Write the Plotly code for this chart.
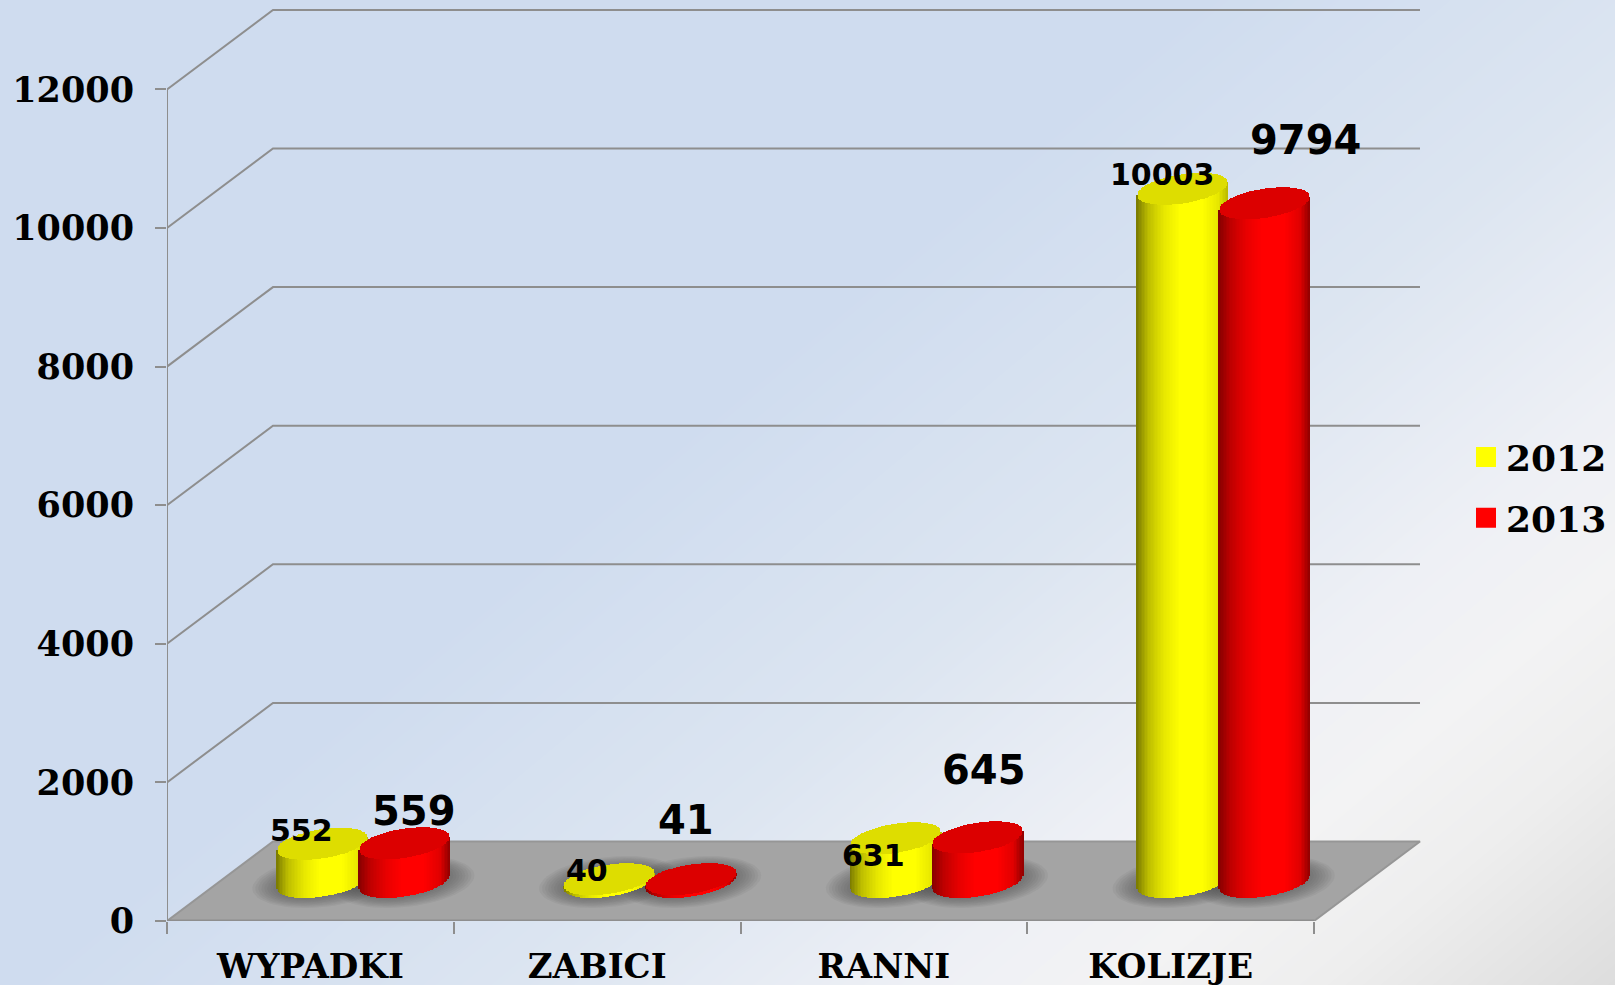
import numpy as np
import plotly.graph_objects as go

# ---------- data ----------
categories = ["WYPADKI", "ZABICI", "RANNI", "KOLIZJE"]
values_2012 = [552, 40, 631, 10003]
values_2013 = [559, 41, 645, 9794]
series_names = ["2012", "2013"]
y_ticks = [0, 2000, 4000, 6000, 8000, 10000, 12000]

# ---------- page geometry and scales (pixels -> axis units) ----------
W, H = 1615, 985
X0, X4 = 167, 1314
XR = 1425
Y0, YT = 921, 4
PXU = (X4 - X0) / 4
PYU = 0.0693
DX, DY = 106, 79.5
SERIF = "DejaVu Serif"
SANS = "DejaVu Sans"
GREY = "#8e8e8e"

def ux(px): return px / PXU
def uy(px): return px / PYU

# ---------- cylinder geometry ----------
A, K, B = 45, 6.5, 14.6          # half width, tilt, half depth of the ellipse
BASE_OFF = 39                    # ellipse centre above axis zero
SHIFT = 41
N = 62
ts = np.linspace(-1, 1, N)
ss = np.sqrt(np.clip(1 - ts ** 2, 0, 1))

def mix(stops, t):
    xs = [s[0] for s in stops]
    return "rgb(%d,%d,%d)" % tuple(np.interp(t, xs, [s[1][i] for s in stops]) for i in range(3))

shade = {
    "2012": [(-1, (125, 125, 0)), (-.75, (190, 190, 0)), (-.4, (232, 232, 0)), (-.05, (255, 255, 0)),
             (.45, (255, 255, 0)), (.8, (232, 232, 0)), (1, (190, 190, 0))],
    "2013": [(-1, (135, 0, 0)), (-.75, (190, 0, 0)), (-.4, (232, 0, 0)), (-.05, (255, 0, 0)),
             (.45, (255, 0, 0)), (.8, (225, 0, 0)), (1, (150, 0, 0))],
}
cap = {"2012": "#dedd00", "2013": "#dc0000"}
solid = {"2012": "#ffff00", "2013": "#ff0000"}

def centre(i, sign):
    return i + .5 + ux(DX / 2 + sign * SHIFT)

def cylinder(values, name, sign):
    x, bb, bh, bc, cb, ch = [], [], [], [], [], []
    for i, v in enumerate(values):
        cx = centre(i, sign)
        for t, s in zip(ts, ss):
            x.append(cx + ux(A * t))
            low = uy(BASE_OFF) + uy(K * t - B * s)
            bb.append(low)
            bh.append(v + uy(K * t) + uy(BASE_OFF) - low)
            bc.append(mix(shade[name], t))
            cb.append(v + uy(BASE_OFF) + uy(K * t - B * s))
            ch.append(uy(2 * B * s))
    wd = ux(2 * A / (N - 1)) * 1.15
    body = go.Bar(x=x, y=bh, base=bb, width=wd, marker=dict(color=bc, line_width=0), xaxis="x3", yaxis="y3",
                  showlegend=False, hoverinfo="skip", name=name)
    top = go.Bar(x=x, y=ch, base=cb, width=wd, marker=dict(color=cap[name], line_width=0), xaxis="x3", yaxis="y3",
                 showlegend=False, hoverinfo="skip", name=name)
    return [body, top]

fig = go.Figure()

# ---------- page background ----------
tv = lambda x, y: x + 1.2 * y
zmin, zmax = 0, tv(W, H)
stops = [(1200, "#cfdcef"), (1700, "#dce5f1"), (2100, "#eef0f5"), (2300, "#f3f3f4"), (2500, "#eeeeee"), (zmax, "#dddddd")]
z = [[tv(0, 0), tv(W, 0)], [tv(0, H), tv(W, H)]]
cs = [[0, stops[0][1]]] + [[s[0] / zmax, s[1]] for s in stops]
fig.add_trace(go.Heatmap(x=[0, W], y=[0, H], z=z, zmin=zmin, zmax=zmax, colorscale=cs, zsmooth="best",
                         showscale=False, hoverinfo="skip", xaxis="x", yaxis="y"))

# ---------- back wall gridlines, floor, shadows ----------
gx, gy = [], []
for v in y_ticks[1:]:
    gx += [0, ux(DX), 4 + ux(DX), None]
    gy += [v, v + uy(DY), v + uy(DY), None]
fig.add_trace(go.Scatter(x=gx, y=gy, mode="lines", line=dict(color=GREY, width=2), xaxis="x2", yaxis="y2",
                         showlegend=False, hoverinfo="skip", cliponaxis=False))
fig.add_trace(go.Scatter(x=[0, 0], y=[0, y_ticks[-1]], mode="lines", line=dict(color=GREY, width=2), xaxis="x2", yaxis="y2",
                         showlegend=False, hoverinfo="skip", cliponaxis=False))
fig.add_trace(go.Scatter(x=[0, 4, 4 + ux(DX), ux(DX), 0], y=[0, 0, uy(DY), uy(DY), 0], mode="lines", fill="toself",
                         fillcolor="#a4a4a4", line=dict(color="#969696", width=2), xaxis="x2", yaxis="y2",
                         showlegend=False, hoverinfo="skip", cliponaxis=False))
fig.add_trace(go.Scatter(x=[0, 4], y=[0, 0], mode="lines", line=dict(color=GREY, width=3), xaxis="x2", yaxis="y2",
                         showlegend=False, hoverinfo="skip", cliponaxis=False))

th = np.linspace(0, 2 * np.pi, 60)
for e in [25, 22, 19, 16, 13, 10, 7, 4, 1]:
    for i in range(len(categories)):
        for sign in (-1, 1):
            cx = centre(i, sign)
            px_x = (A + e) * np.cos(th)
            px_y = K * np.cos(th) + (B + e * .42) * np.sin(th)
            fig.add_trace(go.Scatter(x=cx + ux(px_x), y=uy(BASE_OFF) + uy(px_y), mode="lines", fill="toself",
                                     fillcolor="rgba(70,70,70,0.07)", line=dict(width=0), xaxis="x2", yaxis="y2",
                                     showlegend=False, hoverinfo="skip"))

# ---------- cylinders ----------
for tr in cylinder(values_2012, "2012", -1) + cylinder(values_2013, "2013", 1):
    fig.add_trace(tr)

# ---------- legend entries ----------
for nm in series_names:
    fig.add_trace(go.Scatter(x=[None], y=[None], mode="markers", name=nm, legendgroup=nm,
                             marker=dict(symbol="square", size=16, color=solid[nm], line=dict(width=4, color=solid[nm])),
                             xaxis="x3", yaxis="y3"))

# ---------- value labels ----------
label_px_2012 = [(301, 830, 30), (587, 870, 30), (874, 855, 30), (1162, 174, 30)]
label_px_2013 = [(414, 811, 40), (686, 820, 40), (984, 770, 40), (1305, 140, 40)]
ann = []
for vals, pos in ((values_2012, label_px_2012), (values_2013, label_px_2013)):
    for v, (px, py, fs) in zip(vals, pos):
        ann.append(dict(text=str(v), x=px / W, y=1 - py / H, xref="paper", yref="paper", showarrow=False,
                        xanchor="center", yanchor="middle", font=dict(family=SANS, size=fs, color="black", weight="bold")))

xr = [0, ux(XR - X0)]
yr = [0, uy(Y0 - YT)]
dom_x = [X0 / W, XR / W]
dom_y = [(H - Y0) / H, (H - YT) / H]
hidden = dict(visible=False, showgrid=False, zeroline=False)

fig.update_layout(
    width=W, height=H, margin=dict(l=0, r=0, t=0, b=0, autoexpand=False), autosize=False,
    paper_bgcolor="#cfdcef", plot_bgcolor="rgba(0,0,0,0)",
    barmode="overlay", bargap=0, annotations=ann,
    xaxis=dict(domain=[0, 1], range=[0, W], **hidden),
    yaxis=dict(domain=[0, 1], range=[H, 0], **hidden),
    xaxis2=dict(domain=dom_x, range=xr, anchor="y2", showgrid=False, zeroline=False, showline=False,
                tickmode="array", tickvals=[i + .5 for i in range(4)], ticktext=categories, ticks="",
                ticklabelstandoff=22,
                tickfont=dict(family=SERIF, size=34, color="black", weight="bold"),
                minor=dict(tickmode="array", tickvals=[0, 1, 2, 3, 4], ticks="outside", ticklen=12, tickwidth=2, tickcolor=GREY, showgrid=False)),
    yaxis2=dict(domain=dom_y, range=yr, anchor="x2", showgrid=False, zeroline=False, showline=False,
                tickmode="array", tickvals=y_ticks, ticktext=[str(v) for v in y_ticks], ticks="outside",
                ticklen=11, tickwidth=2, tickcolor=GREY, ticklabelstandoff=14,
                tickfont=dict(family=SERIF, size=35, color="black", weight="bold")),
    xaxis3=dict(domain=dom_x, range=xr, anchor="y3", **hidden),
    yaxis3=dict(domain=dom_y, range=yr, anchor="x3", **hidden),
    legend=dict(x=1466 / W, y=1 - 427 / H, xanchor="left", yanchor="top", bgcolor="rgba(0,0,0,0)", borderwidth=0,
                tracegroupgap=11, itemsizing="trace", itemwidth=30,
                font=dict(family=SERIF, size=36, color="black", weight="bold")),
)
fig.write_html("out.html", config=dict(displayModeBar=False),
               post_script="document.body.style.margin='0';document.documentElement.style.overflow='hidden';")
